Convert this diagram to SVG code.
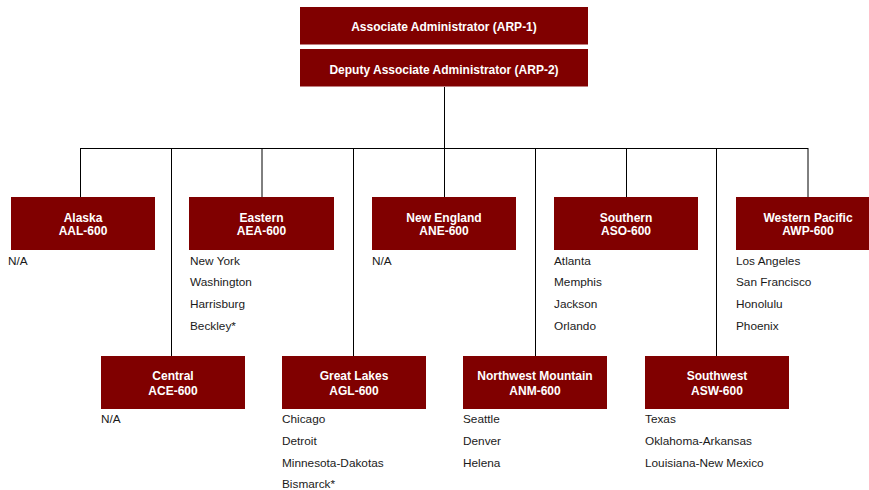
<svg xmlns="http://www.w3.org/2000/svg" width="869" height="490" viewBox="0 0 869 490">
<style>
.box{fill:#800000}
.t{font-family:"Liberation Sans",Arial,sans-serif;font-size:12px;font-weight:bold;fill:#ffffff;text-anchor:middle}
.l{font-family:"Liberation Sans",Arial,sans-serif;font-size:11.8px;fill:#1a1a1a}
.c{stroke:#000;stroke-width:1;fill:none}
</style>
<rect width="869" height="490" fill="#fff"/>
<g id="connectors">
<path class="c" d="M444.5 87V148.5M80 148.5H808M80.5 148V197M262 148V197M171.5 148V356M353.5 148V356M444.5 148V197M535.5 148V356M626.5 148V197M716.5 148V356M808 148V197"/>
</g>
<g id="arp1"><rect class="box" x="300" y="7" width="288" height="37.5"/><text class="t" x="444" y="31">Associate Administrator (ARP-1)</text></g>
<g id="arp2"><rect class="box" x="300" y="49" width="288" height="37.5"/><text class="t" x="444" y="73.5">Deputy Associate Administrator (ARP-2)</text></g>
<g id="aal"><rect class="box" x="11" y="197" width="144" height="53"/><text class="t" x="83" y="221.5">Alaska</text><text class="t" x="83" y="235">AAL-600</text>
<text class="l" x="8" y="264.7">N/A</text></g>
<g id="aea"><rect class="box" x="189" y="197" width="145" height="53"/><text class="t" x="261.5" y="221.5">Eastern</text><text class="t" x="261.5" y="235">AEA-600</text>
<text class="l" x="190" y="264.7">New York</text><text class="l" x="190" y="286.4">Washington</text><text class="l" x="190" y="308">Harrisburg</text><text class="l" x="190" y="329.7">Beckley*</text></g>
<g id="ane"><rect class="box" x="372" y="197" width="144" height="53"/><text class="t" x="444" y="221.5">New England</text><text class="t" x="444" y="235">ANE-600</text>
<text class="l" x="372" y="264.7">N/A</text></g>
<g id="aso"><rect class="box" x="554" y="197" width="144" height="53"/><text class="t" x="626" y="221.5">Southern</text><text class="t" x="626" y="235">ASO-600</text>
<text class="l" x="554" y="264.7">Atlanta</text><text class="l" x="554" y="286.4">Memphis</text><text class="l" x="554" y="308">Jackson</text><text class="l" x="554" y="329.7">Orlando</text></g>
<g id="awp"><rect class="box" x="736" y="197" width="144" height="53"/><text class="t" x="808" y="221.5">Western Pacific</text><text class="t" x="808" y="235">AWP-600</text>
<text class="l" x="736" y="264.7">Los Angeles</text><text class="l" x="736" y="286.4">San Francisco</text><text class="l" x="736" y="308">Honolulu</text><text class="l" x="736" y="329.7">Phoenix</text></g>
<g id="ace"><rect class="box" x="101" y="356" width="144" height="53"/><text class="t" x="173" y="380">Central</text><text class="t" x="173" y="394.5">ACE-600</text>
<text class="l" x="101" y="423.3">N/A</text></g>
<g id="agl"><rect class="box" x="282" y="356" width="144" height="53"/><text class="t" x="354" y="380">Great Lakes</text><text class="t" x="354" y="394.5">AGL-600</text>
<text class="l" x="282" y="423.3">Chicago</text><text class="l" x="282" y="445">Detroit</text><text class="l" x="282" y="466.7">Minnesota-Dakotas</text><text class="l" x="282" y="488.3">Bismarck*</text></g>
<g id="anm"><rect class="box" x="463" y="356" width="144" height="53"/><text class="t" x="535" y="380">Northwest Mountain</text><text class="t" x="535" y="394.5">ANM-600</text>
<text class="l" x="463" y="423.3">Seattle</text><text class="l" x="463" y="445">Denver</text><text class="l" x="463" y="466.7">Helena</text></g>
<g id="asw"><rect class="box" x="645" y="356" width="144" height="53"/><text class="t" x="717" y="380">Southwest</text><text class="t" x="717" y="394.5">ASW-600</text>
<text class="l" x="645" y="423.3">Texas</text><text class="l" x="645" y="445">Oklahoma-Arkansas</text><text class="l" x="645" y="466.7">Louisiana-New Mexico</text></g>
</svg>
